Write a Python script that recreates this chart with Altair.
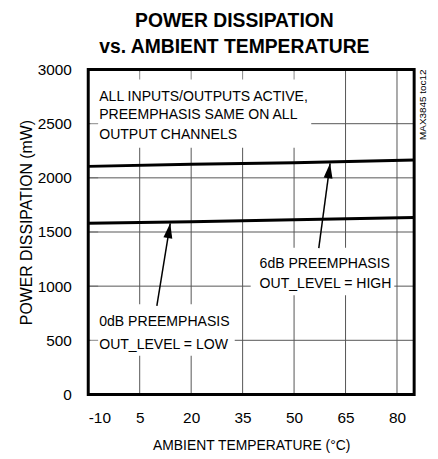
import altair as alt
import pandas as pd

FONT = "Liberation Sans"

# axes
x_ticks = [-10, 5, 20, 35, 50, 65, 80]
x_domain = [-10, 85]
y_ticks = [0, 500, 1000, 1500, 2000, 2500, 3000]
y_domain = [0, 3000]

# series
temp = [-10, 20, 50, 85]
p_6db = [2106, 2125, 2140, 2165]
p_0db = [1580, 1594, 1613, 1634]

# annotation boxes (data coordinates) masking grid under labels
box_x = [-9.4, 37.35, -9.4]
box_x2 = [55.0, 79.2, 32.7]
box_y = [2277, 915, 357]
box_y2 = [2985, 1354, 832]

# annotation text
ann_text = ["ALL INPUTS/OUTPUTS ACTIVE,", "PREEMPHASIS SAME ON ALL", "OUTPUT CHANNELS",
            "6dB PREEMPHASIS", "OUT_LEVEL = HIGH",
            "0dB PREEMPHASIS", "OUT_LEVEL = LOW"]
ann_x = [-6.8, -6.8, -6.8, 39.95, 39.95, -6.8, -6.8]
ann_y = [2707, 2543, 2360, 1171, 979, 634, 421]

# arrows: tail -> tip
arr_x = [57.2, 10.0]
arr_y = [1351, 817]
arr_x2 = [60.5, 13.9]
arr_y2 = [2134, 1580]
arr_angle = [7.7, 9.1]

xs = alt.Scale(domain=x_domain, nice=False, zero=False)
ys = alt.Scale(domain=y_domain, nice=False)

lines_df = pd.DataFrame({"t": temp * 2, "p": p_6db + p_0db,
                         "s": ["6dB"] * len(temp) + ["0dB"] * len(temp)})
vgrid = pd.DataFrame({"x": x_ticks[1:]})
hgrid = pd.DataFrame({"y": y_ticks[1:-1]})
boxes = pd.DataFrame({"x": box_x, "x2": box_x2, "y": box_y, "y2": box_y2})
ann = pd.DataFrame({"t": ann_text, "x": ann_x, "y": ann_y})
arr = pd.DataFrame({"x": arr_x, "y": arr_y, "x2": arr_x2, "y2": arr_y2, "a": arr_angle})
border = pd.DataFrame({"x": [x_domain[0]], "x2": [x_domain[1]], "y": [y_domain[0]], "y2": [y_domain[1]]})
topticks = pd.DataFrame({"x": x_ticks[1:5], "y": [y_domain[1]] * 4})
leftticks = pd.DataFrame({"x": [x_domain[0]] * 5, "y": y_ticks[1:-1]})
tag = pd.DataFrame({"x": [x_domain[1]], "y": [y_domain[1]], "t": ["MAX3845 toc12"]})

base_x = alt.X("x:Q", scale=xs)
base_y = alt.Y("y:Q", scale=ys)

axis_chart = alt.Chart(lines_df).mark_line(color="black", strokeWidth=3).encode(
    x=alt.X("t:Q", scale=xs, title="AMBIENT TEMPERATURE (°C)",
            axis=alt.Axis(values=x_ticks, grid=False, domain=False, ticks=False,
                          labelExpr="'' + datum.value",
                          labelFontSize=15.5, labelPadding=16, titleFontSize=14,
                          titleFontWeight="normal", titlePadding=13, labelFont=FONT,
                          titleFont=FONT, labelColor="black", titleColor="black")),
    y=alt.Y("p:Q", scale=ys, title="POWER DISSIPATION (mW)",
            axis=alt.Axis(values=y_ticks, grid=False, domain=False, ticks=False,
                          format="d",
                          labelFontSize=15.5, labelPadding=17, titleFontSize=16,
                          titleFontWeight="normal", titlePadding=3, titleY=154,
                          labelFont=FONT,
                          titleFont=FONT, labelColor="black", titleColor="black")),
    detail="s:N",
)

vg = alt.Chart(vgrid).mark_rule(color="#555", strokeWidth=1).encode(x=alt.X("x:Q", scale=xs))
hg = alt.Chart(hgrid).mark_rule(color="#555", strokeWidth=1).encode(y=alt.Y("y:Q", scale=ys))
wb = alt.Chart(boxes).mark_rect(color="white").encode(x=base_x, x2="x2:Q", y=base_y, y2="y2:Q")
tt = alt.Chart(topticks).mark_tick(color="#555", size=10, thickness=1, yOffset=5, orient="vertical").encode(x=base_x, y=base_y)
lt = alt.Chart(leftticks).mark_tick(color="#555", size=10, thickness=1, xOffset=5, orient="horizontal").encode(x=base_x, y=base_y)
txt = alt.Chart(ann).mark_text(align="left", baseline="alphabetic", fontSize=14.2, font=FONT, color="black").encode(
    x=base_x, y=base_y, text="t:N")
shaft = alt.Chart(arr).mark_rule(color="black", strokeWidth=1.5).encode(x=base_x, y=base_y, x2="x2:Q", y2="y2:Q")
head = alt.Chart(arr).mark_point(shape="M0,0L-0.6,2L0.6,2Z", filled=True, color="black", opacity=1, size=225).encode(
    x=alt.X("x2:Q", scale=xs), y=alt.Y("y2:Q", scale=ys), angle=alt.Angle("a:Q", scale=None))
brd = alt.Chart(border).mark_rect(fill=None, stroke="black", strokeWidth=3).encode(x=base_x, x2="x2:Q", y=base_y, y2="y2:Q")
tg = alt.Chart(tag).mark_text(angle=270, align="right", baseline="middle", dy=9, fontSize=10, font=FONT, color="black").encode(
    x=base_x, y=base_y, text="t:N")

chart = alt.layer(vg, hg, wb, tt, lt, axis_chart, shaft, head, txt, brd, tg).properties(
    width=329, height=328,
    padding={"left": 81, "top": 60, "right": 16, "bottom": 60},
    autosize=alt.AutoSizeParams(type="none"),
    title=alt.TitleParams(["POWER DISSIPATION", "vs. AMBIENT TEMPERATURE"], fontSize=19.5, fontWeight="bold",
                          font=FONT, color="black", anchor="middle", dx=-17, offset=5, lineHeight=26),
).configure_view(stroke=None)

chart.save("out.html", embed_options={"renderer": "svg", "actions": False})
